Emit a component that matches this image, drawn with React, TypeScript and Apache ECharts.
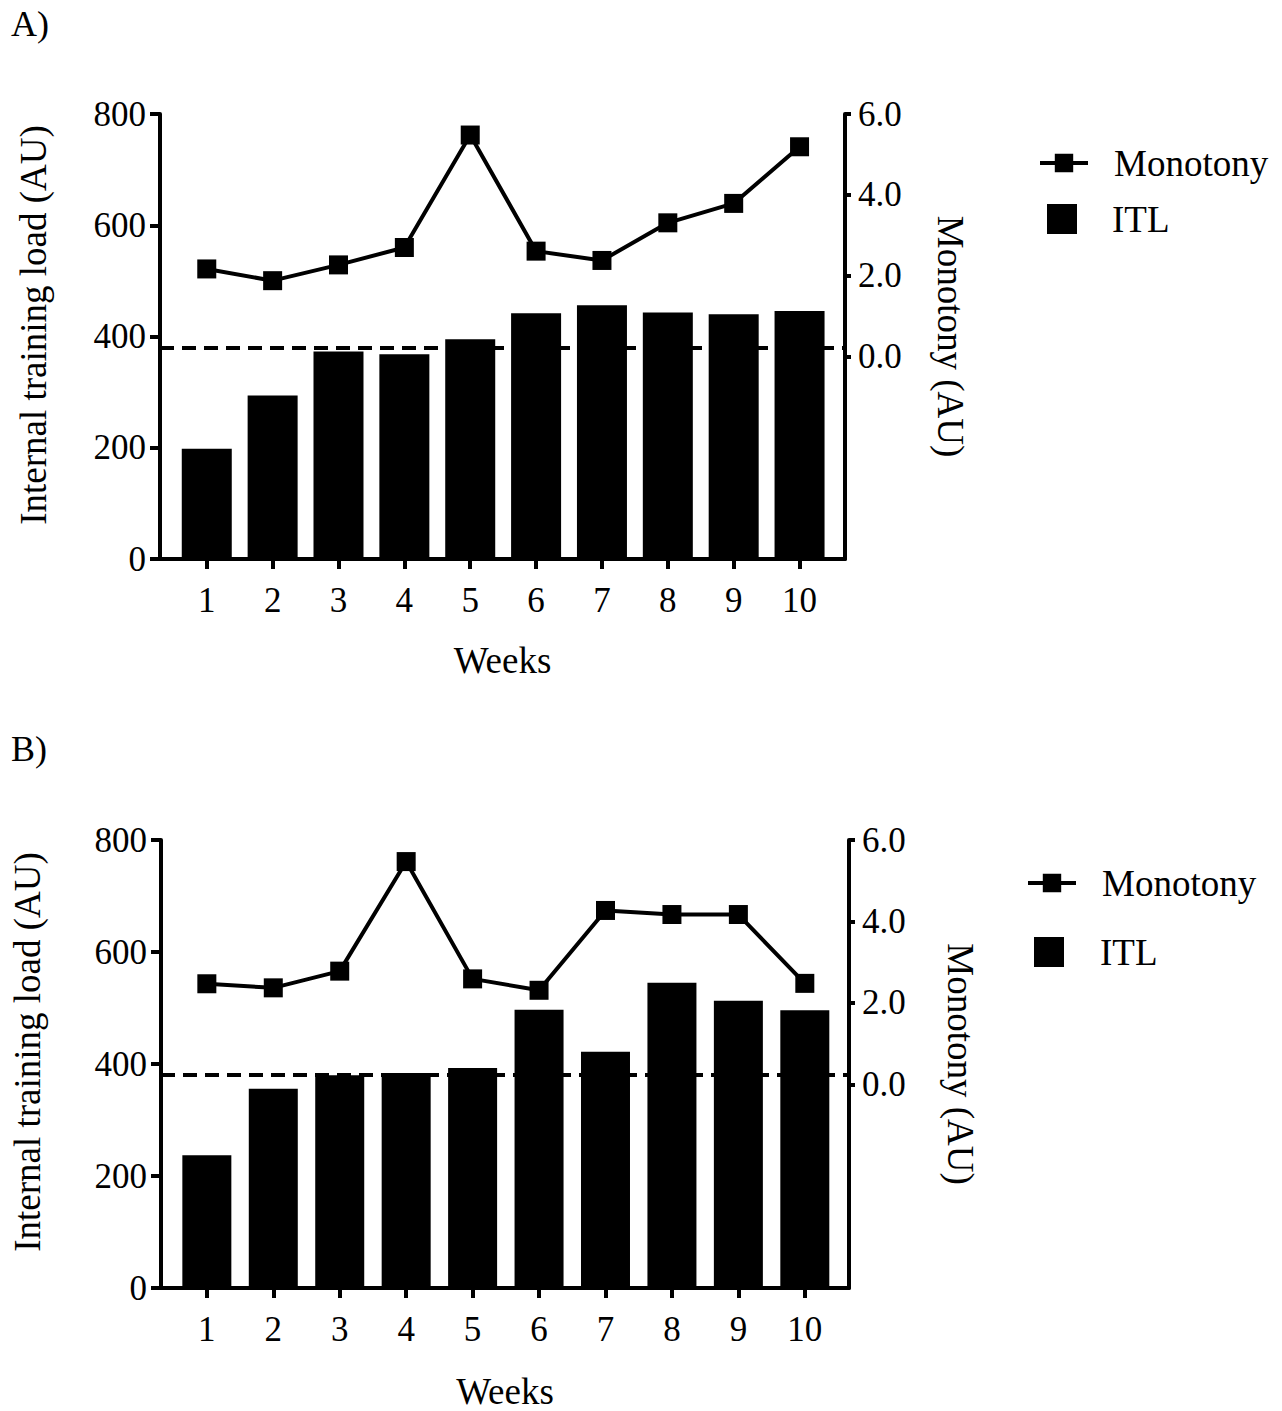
import React, { useEffect, useRef } from "react";
import * as echarts from "echarts";

// ---- Data ----
const weeks = [1, 2, 3, 4, 5, 6, 7, 8, 9, 10];
const itlA = [198, 294, 373, 368, 395, 442, 456, 443, 440, 446];
const monotonyA = [2.17, 1.88, 2.27, 2.7, 5.48, 2.61, 2.38, 3.31, 3.79, 5.19];
const itlB = [237, 356, 380, 384, 393, 497, 422, 545, 513, 496];
const monotonyB = [2.47, 2.37, 2.78, 5.47, 2.59, 2.31, 4.27, 4.17, 4.17, 2.48];
const referenceITL = [380, 380];
const leftTickValues = [0, 200, 400, 600, 800];
const rightTickValues = [0, 2, 4, 6];
const panelLabels = ["A)", "B)"];

const FONT = '"Liberation Serif", "Times New Roman", serif';

// ---- Layout (positions/styles only) ----
const panels = [
  {
    label: panelLabels[0],
    labelTop: 6,
    grid: { left: 160, top: 114, width: 685, height: 445 },
    xMin: 0.29,
    xMax: 10.69,
    barWidth: 50,
    itl: itlA,
    mono: monotonyA,
    ref: referenceITL[0],
    xNameGap: 83,
    leftNameGap: 108,
    leftNamePad: 23,
    rightNameGap: 87,
    legendLeft: [1038, 1047],
    legendTop: [144.5, 200.5],
    legendPad: [21, 30],
  },
  {
    label: panelLabels[1],
    labelTop: 731,
    grid: { left: 161, top: 840, width: 688, height: 449 },
    xMin: 0.31,
    xMax: 10.665,
    barWidth: 49,
    itl: itlB,
    mono: monotonyB,
    ref: referenceITL[1],
    xNameGap: 85,
    leftNameGap: 115,
    leftNamePad: 24,
    rightNameGap: 93,
    legendLeft: [1026, 1034],
    legendTop: [864.5, 933.5],
    legendPad: [21, 31],
  },
];

function buildOption() {
  const title: any[] = [];
  const grid: any[] = [];
  const xAxis: any[] = [];
  const yAxis: any[] = [];
  const series: any[] = [];
  const legend: any[] = [];

  panels.forEach((p, i) => {
    title.push({
      text: p.label,
      left: 11,
      top: p.labelTop,
      padding: 0,
      textStyle: { fontFamily: FONT, fontSize: 36, fontWeight: "normal", color: "#000" },
    });
    grid.push({ ...p.grid, containLabel: false });
    xAxis.push({
      type: "value",
      gridIndex: i,
      min: p.xMin,
      max: p.xMax,
      name: "Weeks",
      nameLocation: "middle",
      nameGap: p.xNameGap,
      nameTextStyle: { fontFamily: FONT, fontSize: 37, color: "#000" },
      axisLine: { show: true, onZero: false, lineStyle: { color: "#000", width: 4 } },
      axisTick: { show: true, length: 10, customValues: weeks, lineStyle: { color: "#000", width: 4 } },
      axisLabel: {
        show: true,
        customValues: weeks,
        margin: 24,
        fontFamily: FONT,
        fontSize: 35,
        color: "#000",
      },
      splitLine: { show: false },
    });
    yAxis.push({
      type: "value",
      gridIndex: i,
      position: "left",
      min: 0,
      max: 800,
      interval: 200,
      name: "Internal training load (AU)",
      nameLocation: "middle",
      nameGap: p.leftNameGap,
      nameTextStyle: {
        fontFamily: FONT,
        fontSize: 37,
        color: "#000",
        padding: [0, 0, 0, p.leftNamePad],
      },
      axisLine: { show: true, lineStyle: { color: "#000", width: 4 } },
      axisTick: { show: true, length: 10, lineStyle: { color: "#000", width: 4 } },
      axisLabel: {
        show: true,
        customValues: leftTickValues,
        margin: 14,
        fontFamily: FONT,
        fontSize: 35,
        color: "#000",
      },
      splitLine: { show: false },
    });
    yAxis.push({
      type: "value",
      gridIndex: i,
      position: "right",
      min: -5,
      max: 6,
      name: "Monotony (AU)",
      nameLocation: "middle",
      nameRotate: -90,
      nameGap: p.rightNameGap,
      nameTextStyle: { fontFamily: FONT, fontSize: 37, color: "#000" },
      axisLine: { show: true, lineStyle: { color: "#000", width: 4 } },
      axisTick: {
        show: true,
        length: 6,
        customValues: rightTickValues,
        lineStyle: { color: "#000", width: 4 },
      },
      axisLabel: {
        show: true,
        customValues: rightTickValues,
        margin: 13,
        fontFamily: FONT,
        fontSize: 35,
        color: "#000",
        formatter: (v: number) => v.toFixed(1),
      },
      splitLine: { show: false },
    });

    series.push({
      name: "ITL",
      type: "bar",
      xAxisIndex: i,
      yAxisIndex: i * 2,
      barWidth: p.barWidth,
      itemStyle: { color: "#000" },
      data: weeks.map((w, k) => [w, p.itl[k]]),
      markLine: {
        silent: true,
        symbol: "none",
        label: { show: false },
        lineStyle: { color: "#000", width: 4, type: [14, 8] },
        data: [{ yAxis: p.ref }],
      },
    });
    series.push({
      name: "Monotony",
      type: "line",
      xAxisIndex: i,
      yAxisIndex: i * 2 + 1,
      symbol: "rect",
      symbolSize: 19,
      lineStyle: { color: "#000", width: 4 },
      itemStyle: { color: "#000" },
      data: weeks.map((w, k) => [w, p.mono[k]]),
      z: 5,
    });

    legend.push({
      data: ["Monotony"],
      left: p.legendLeft[0],
      top: p.legendTop[0],
      padding: 0,
      itemWidth: 48,
      itemHeight: 23,
      selectedMode: false,
      lineStyle: { width: 4, color: "#000" },
      textStyle: {
        fontFamily: FONT,
        fontSize: 37,
        color: "#000",
        padding: [0, 0, 0, p.legendPad[0]],
      },
    });
    legend.push({
      data: [{ name: "ITL", icon: "rect" }],
      left: p.legendLeft[1],
      top: p.legendTop[1],
      padding: 0,
      itemWidth: 30,
      itemHeight: 30,
      selectedMode: false,
      textStyle: {
        fontFamily: FONT,
        fontSize: 37,
        color: "#000",
        padding: [0, 0, 0, p.legendPad[1]],
      },
    });
  });

  return {
    animation: false,
    backgroundColor: "#fff",
    title,
    grid,
    xAxis,
    yAxis,
    series,
    legend,
  };
}

export default function App() {
  const ref = useRef<HTMLDivElement>(null);
  useEffect(() => {
    if (!ref.current) return;
    const chart = echarts.init(ref.current, undefined, { renderer: "svg" });
    chart.setOption(buildOption() as any);
    return () => chart.dispose();
  }, []);
  return (
    <div
      ref={ref}
      style={{ position: "absolute", left: 0, top: 0, width: 1282, height: 1411, background: "#fff" }}
    />
  );
}
